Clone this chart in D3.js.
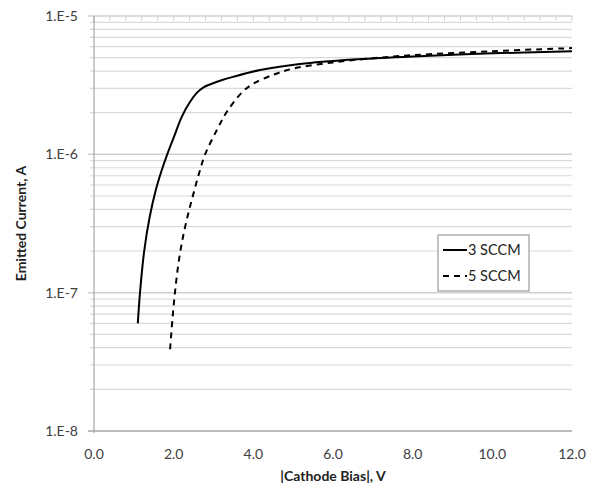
<!DOCTYPE html>
<html>
<head>
<meta charset="utf-8">
<script src="https://cdn.jsdelivr.net/npm/d3@7/dist/d3.min.js"></script>
<style>
  body { margin:0; background:#fff; }
  svg text { font-family: Lato, "Open Sans", sans-serif; fill:#404040; }
  .tick-lbl { font-size:14px; }
  .leg-lbl { font-size:14.5px; fill:#222; }
  .title { font-size:14px; font-weight:bold; fill:#222; }
</style>
</head>
<body>
<div id="chart"></div>
<script>
// 3 SCCM curve: bias (V), current (A)
var bias3 = [1.10, 1.155, 1.26, 1.40, 1.55, 1.70, 1.85, 2.00, 2.20, 2.40, 2.58, 2.75, 2.91, 3.20, 3.49, 4.17, 5.17, 6.5, 8.0, 10.0, 12.0];
var curr3 = [6.0e-8, 1.0e-7, 2.0e-7, 3.55e-7, 5.5e-7, 7.67e-7, 1.02e-6, 1.32e-6, 1.86e-6, 2.37e-6, 2.78e-6, 3.05e-6, 3.2e-6, 3.43e-6, 3.63e-6, 4.07e-6, 4.5e-6, 4.85e-6, 5.1e-6, 5.37e-6, 5.55e-6];
// 5 SCCM curve
var bias5 = [1.91, 1.97, 2.04, 2.14, 2.26, 2.39, 2.51, 2.64, 2.79, 3.09, 3.34, 3.74, 4.0, 4.5, 5.0, 6.0, 7.0, 8.0, 10.0, 12.0];
var curr5 = [3.9e-8, 6.46e-8, 1.05e-7, 1.78e-7, 2.75e-7, 3.98e-7, 5.37e-7, 7.33e-7, 1.0e-6, 1.51e-6, 2.04e-6, 2.85e-6, 3.24e-6, 3.76e-6, 4.17e-6, 4.62e-6, 4.95e-6, 5.21e-6, 5.57e-6, 5.86e-6];

var xTicks = [0, 2, 4, 6, 8, 10, 12];
var yTicks = [1e-8, 1e-7, 1e-6, 1e-5];
var yTickLabels = ["1.E-8", "1.E-7", "1.E-6", "1.E-5"];
var seriesNames = ["3 SCCM", "5 SCCM"];

var W = 591, H = 487,
    m = {t:16, r:19, b:56, l:94};

var svg = d3.select("#chart").append("svg")
    .attr("width", W).attr("height", H);

var x = d3.scaleLinear().domain([0, 12]).range([m.l, W - m.r]);
var y = d3.scaleLog().domain([1e-8, 1e-5]).range([H - m.b, m.t]);

// minor gridlines (2..9 in each decade)
var minor = [];
[1e-8, 1e-7, 1e-6].forEach(function(d){
    for (var k = 2; k <= 9; k++) minor.push(d * k);
});

svg.append("g").selectAll("line.minor")
    .data(minor).enter().append("line")
    .attr("x1", m.l - 4).attr("x2", W - m.r)
    .attr("y1", function(d){ return y(d); })
    .attr("y2", function(d){ return y(d); })
    .style("stroke", "#d9d9d9").style("stroke-width", 1.2);

svg.append("g").selectAll("line.major")
    .data(yTicks).enter().append("line")
    .attr("x1", m.l - 6).attr("x2", W - m.r)
    .attr("y1", function(d){ return y(d); })
    .attr("y2", function(d){ return y(d); })
    .style("stroke", function(d){ return d == 1e-8 ? "#a6a6a6" : "#d0d0d0"; })
    .style("stroke-width", 1.5);

// small vertical ticks along top
svg.append("g").selectAll("line.topTick")
    .data(d3.range(0, 12.01, 0.4)).enter().append("line")
    .attr("x1", function(d){ return x(d); })
    .attr("x2", function(d){ return x(d); })
    .attr("y1", y(1e-5)).attr("y2", y(1e-5) + 5)
    .style("stroke", "#cfcfcf").style("stroke-width", 1);

// left axis
svg.append("line")
    .attr("x1", m.l).attr("x2", m.l)
    .attr("y1", m.t).attr("y2", H - m.b + 2)
    .style("stroke", "#a6a6a6").style("stroke-width", 1.2);

// y tick labels
svg.append("g").selectAll("text")
    .data(yTicks).enter().append("text")
    .attr("class", "tick-lbl")
    .attr("x", 78)
    .attr("y", function(d){ return y(d) + 5; })
    .style("text-anchor", "end")
    .text(function(d, i){ return yTickLabels[i]; });

// x tick labels
svg.append("g").selectAll("text")
    .data(xTicks).enter().append("text")
    .attr("class", "tick-lbl")
    .attr("x", function(d){ return x(d); })
    .attr("y", 459)
    .style("text-anchor", "middle")
    .text(function(d){ return d3.format(".1f")(d); });

// titles
svg.append("text")
    .attr("class", "title")
    .attr("x", (m.l + W - m.r) / 2)
    .attr("y", 481)
    .style("text-anchor", "middle")
    .text("|Cathode Bias|, V");

svg.append("text")
    .attr("class", "title")
    .attr("transform", "translate(26," + ((m.t + H - m.b) / 2) + ") rotate(-90)")
    .style("text-anchor", "middle")
    .text("Emitted Current, A");

// curves
var line = d3.line()
    .x(function(d){ return x(d[0]); })
    .y(function(d){ return y(d[1]); })
    .curve(d3.curveCatmullRom.alpha(0.5));

var s3 = d3.zip(bias3, curr3), s5 = d3.zip(bias5, curr5);

svg.append("path")
    .datum(s3)
    .attr("d", line)
    .style("fill", "none").style("stroke", "#000").style("stroke-width", 2);

svg.append("path")
    .datum(s5)
    .attr("d", line)
    .style("fill", "none").style("stroke", "#000").style("stroke-width", 2)
    .style("stroke-dasharray", "6,5");

// legend
var leg = svg.append("g").attr("transform", "translate(438,235)");
leg.append("rect")
    .attr("width", 91).attr("height", 56)
    .style("fill", "#fff").style("stroke", "#868686").style("stroke-width", 1);

leg.selectAll("line.item")
    .data(seriesNames).enter().append("line")
    .attr("x1", 5).attr("x2", 29)
    .attr("y1", function(d, i){ return 15 + i * 26; })
    .attr("y2", function(d, i){ return 15 + i * 26; })
    .style("stroke", "#000").style("stroke-width", 2)
    .style("stroke-dasharray", function(d, i){ return i ? "6,5" : null; });

leg.selectAll("text")
    .data(seriesNames).enter().append("text")
    .attr("class", "leg-lbl")
    .attr("x", 30)
    .attr("y", function(d, i){ return 20 + i * 26; })
    .text(function(d){ return d; });
</script>
</body>
</html>
